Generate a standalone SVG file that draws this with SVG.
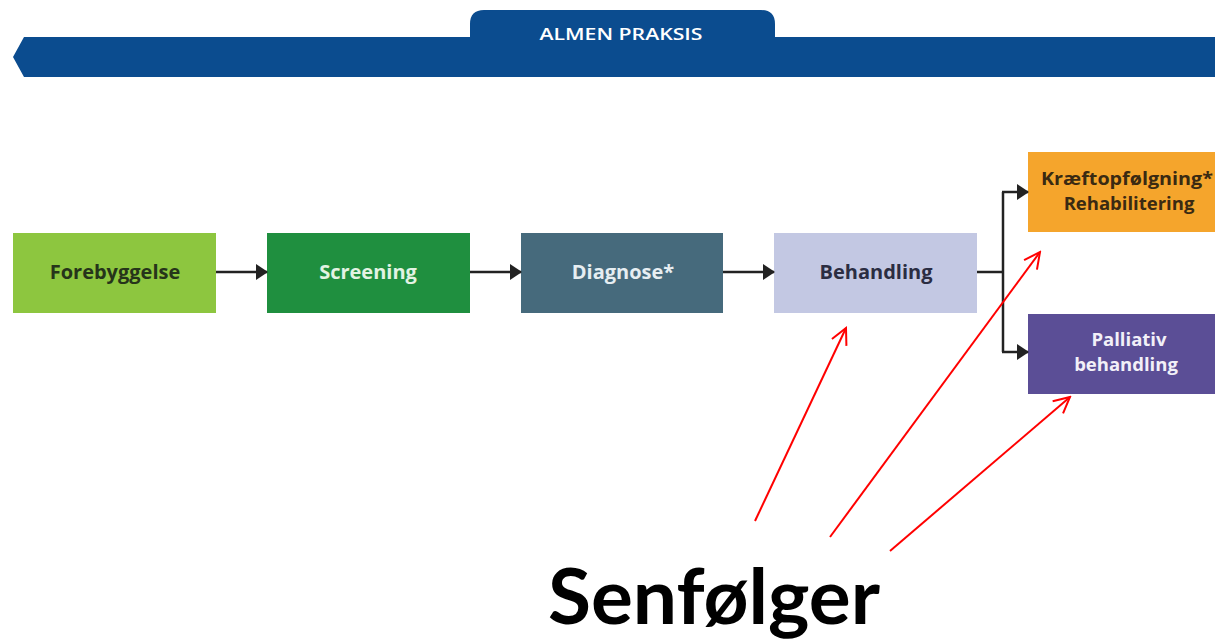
<svg xmlns="http://www.w3.org/2000/svg" width="1215" height="642" viewBox="0 0 1215 642">
<defs>
<style>
.lbl{font-family:"Open Sans","Liberation Sans",sans-serif;font-weight:700;font-size:20px;text-anchor:middle}
.lbl2{font-family:"Open Sans","Liberation Sans",sans-serif;font-weight:700;font-size:18.5px;text-anchor:middle}
.conn{stroke:#222;stroke-width:2.5;fill:none}
.red{stroke:#ff0000;stroke-width:2;fill:none}
</style>
<marker id="ah" viewBox="0 0 12 16" refX="11" refY="8" markerWidth="12" markerHeight="16" markerUnits="userSpaceOnUse" orient="auto">
<path d="M0,0 L12,8 L0,16 Z" fill="#222"/>
</marker>
<marker id="rh" viewBox="0 0 20 20" refX="18" refY="10" markerWidth="20" markerHeight="20" markerUnits="userSpaceOnUse" orient="auto">
<path d="M2,2 L18,10 L2,18" fill="none" stroke="#ff0000" stroke-width="2"/>
</marker>
</defs>
<rect width="1215" height="642" fill="#ffffff"/>
<g id="banner">
<path d="M470,37 L470,24 Q470,10 484,10 L761,10 Q775,10 775,24 L775,37 L1215,37 L1215,77 L24,77 L13,57 L24,37 Z" fill="#0b4c8f"/>
<text x="621" y="40" font-family="Open Sans, Liberation Sans, sans-serif" font-weight="600" font-size="17" fill="#ffffff" text-anchor="middle" textLength="163" lengthAdjust="spacingAndGlyphs">ALMEN PRAKSIS</text>
</g>
<g id="forebyggelse">
<rect x="13" y="233" width="203" height="80" fill="#8dc63f"/>
<text class="lbl" x="115" y="279" fill="#26341a">Forebyggelse</text>
</g>
<g id="screening">
<rect x="267" y="233" width="203" height="80" fill="#1f8f3f"/>
<text class="lbl" x="368" y="279" fill="#e3f3e3">Screening</text>
</g>
<g id="diagnose">
<rect x="521" y="233" width="202" height="80" fill="#466a7c"/>
<text class="lbl" x="623" y="279" fill="#e6eef2">Diagnose*</text>
</g>
<g id="behandling">
<rect x="774" y="233" width="203" height="80" fill="#c3c8e3"/>
<text class="lbl" x="876" y="279" fill="#2b2d42">Behandling</text>
</g>
<g id="kraeftopfoelgning">
<rect x="1028" y="152" width="187" height="80" fill="#f5a52c"/>
<text class="lbl2" x="1041" y="185" fill="#3a2a12" style="text-anchor:start" textLength="172" lengthAdjust="spacingAndGlyphs">Kræftopfølgning*</text>
<text class="lbl2" x="1129" y="210" fill="#3a2a12">Rehabilitering</text>
</g>
<g id="palliativ">
<rect x="1028" y="314" width="187" height="80" fill="#5b4e96"/>
<text class="lbl2" x="1129" y="346" fill="#f2f0f8">Palliativ</text>
<text class="lbl2" x="1126" y="371" fill="#f2f0f8">behandling</text>
</g>
<g id="connectors">
<line class="conn" x1="216" y1="272" x2="267" y2="272" marker-end="url(#ah)"/>
<line class="conn" x1="470" y1="272" x2="521" y2="272" marker-end="url(#ah)"/>
<line class="conn" x1="723" y1="272" x2="774" y2="272" marker-end="url(#ah)"/>
<line class="conn" x1="977" y1="272" x2="1003" y2="272"/>
<path class="conn" d="M1003,192 L1003,352"/>
<line class="conn" x1="1002" y1="192" x2="1028" y2="192" marker-end="url(#ah)"/>
<line class="conn" x1="1002" y1="352" x2="1028" y2="352" marker-end="url(#ah)"/>
<line class="red" x1="755" y1="521" x2="846" y2="328" marker-end="url(#rh)"/>
<line class="red" x1="830" y1="537" x2="1040" y2="252" marker-end="url(#rh)"/>
<line class="red" x1="890" y1="551" x2="1070" y2="397" marker-end="url(#rh)"/>
</g>
<g id="senfoelger">
<text x="548" y="624" font-family="Lato, Open Sans, Liberation Sans, sans-serif" font-weight="700" font-size="76" fill="#000000" textLength="332" lengthAdjust="spacingAndGlyphs">Senfølger</text>
</g>
</svg>
